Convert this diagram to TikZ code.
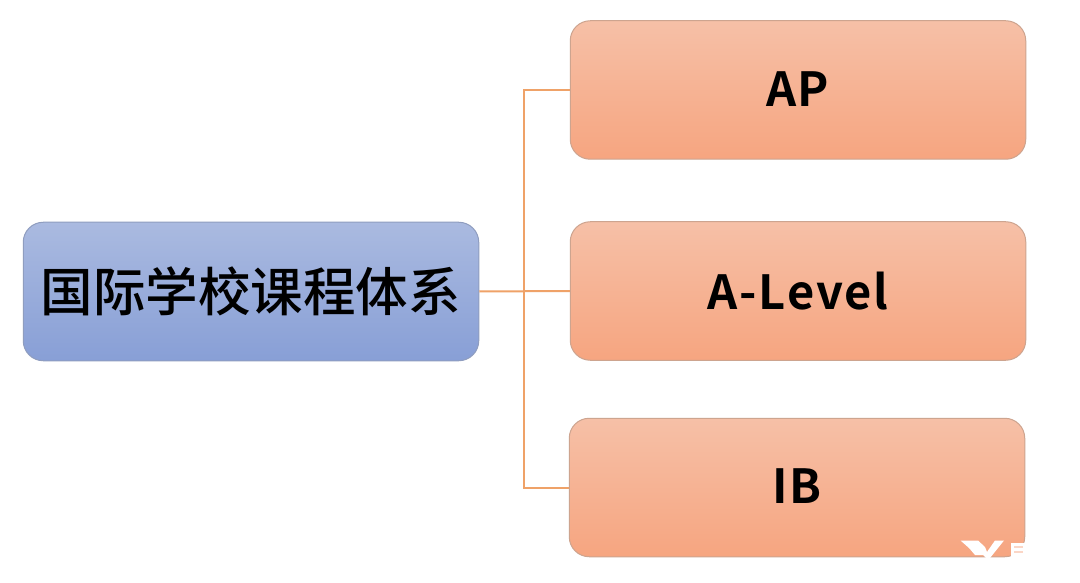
\documentclass[tikz,border=0pt]{standalone}
\usepackage{fontspec}
\setmainfont{Noto Sans CJK SC}
\newfontfamily\cjkfont{Noto Sans CJK SC Medium}
\newfontfamily\latfont{Noto Sans CJK SC Bold}[LetterSpace=2]
\newfontfamily\latwide{Noto Sans CJK SC Bold}[LetterSpace=4]
\definecolor{lineorange}{HTML}{EFA268}
\definecolor{BorderBlue}{HTML}{8F9DBF}
\definecolor{TopBlue}{HTML}{AABAE0}
\definecolor{BotBlue}{HTML}{889FD6}
\definecolor{BorderOrange}{HTML}{CDA48F}
\definecolor{TopOrange}{HTML}{F6C0A7}
\definecolor{BotOrange}{HTML}{F6A580}
\tikzset{
  px/.style={x=1pt,y=-1pt},
  boxbase/.style={rounded corners=20pt,minimum width=455.5pt,minimum height=138.5pt,line width=1pt,inner sep=0pt,text=black},
  bluebox/.style={boxbase,draw=BorderBlue,top color=TopBlue,bottom color=BotBlue},
  orangebox/.style={boxbase,draw=BorderOrange,top color=TopOrange,bottom color=BotOrange},
  link/.style={draw=lineorange,line width=2pt},
  lab/.style={font=\latfont\fontsize{47}{50}\selectfont},
  labwide/.style={font=\latwide\fontsize{47}{50}\selectfont},
  cjklab/.style={font=\cjkfont\fontsize{52.5}{56}\selectfont}
}
\begin{document}
\begin{tikzpicture}[px]
\useasboundingbox (0,0) rectangle (1080,583);
\fill[white] (0,0) rectangle (1080,583);
\node[bluebox,cjklab] (root) at (251,291.5) {\raisebox{1.5pt}{国际学校课程体系}};
\node[orangebox,lab] (ap) at (798,90) {\raisebox{2pt}{AP}};
\node[orangebox,labwide] (alevel) at (798,291) {\raisebox{1pt}{A-Level}};
\node[orangebox,lab] (ib) at (797,487.5) {\raisebox{2pt}{IB}};
\coordinate (trunk) at (524,291.5);
\draw[link] (root.east) -- (alevel.west);
\draw[link] (trunk) |- (ap.west);
\draw[link] (trunk) |- (ib.west);
% watermark fragment
\fill[white] (960.5,540.5) -- (978,540.5) -- (985,547) -- (987,552) -- (995,540.5) -- (1004,540.5) -- (990,558) -- (986,558) -- (983,555) -- (975,555) -- (969,548) -- cycle;
\fill[white] (1011,543) rectangle (1026,558);
\fill[BotOrange!45!white] (1014,546) rectangle (1023,548);
\fill[BotOrange!45!white] (1014,551) rectangle (1023,553);
\end{tikzpicture}
\end{document}
